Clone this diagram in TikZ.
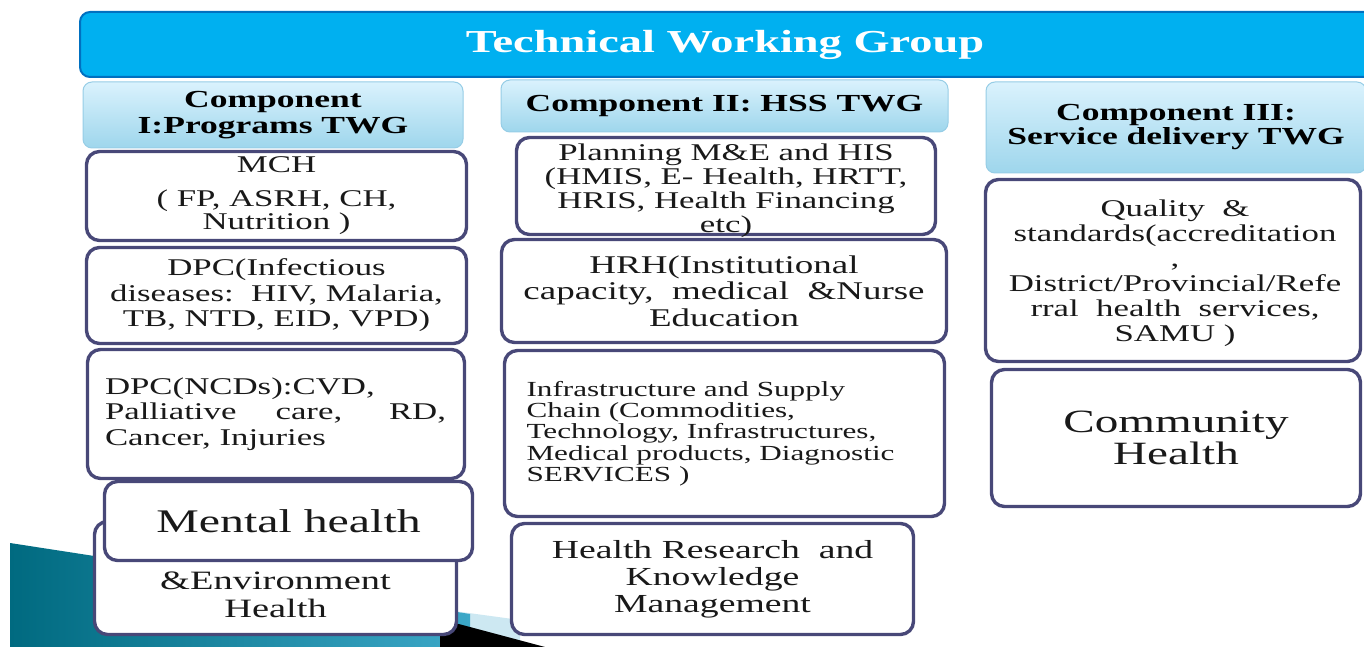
\documentclass[tikz,border=0pt]{standalone}
\usepackage{fontspec}
\setmainfont{Liberation Serif}[FakeStretch=1.45]
\definecolor{boxline}{RGB}{72,72,120}
\definecolor{headline}{RGB}{150,205,230}
\definecolor{headtop}{RGB}{218,242,253}
\definecolor{headbot}{RGB}{158,214,236}
\definecolor{titlefill}{RGB}{0,176,240}
\definecolor{titleline}{RGB}{0,112,192}
\definecolor{tealdark}{RGB}{0,106,128}
\definecolor{teallight}{RGB}{60,168,200}
\definecolor{paleblue}{RGB}{205,232,242}
\definecolor{ink}{RGB}{25,25,25}
\begin{document}
\begin{tikzpicture}[x=1pt,y=-1pt,
  item/.style={draw=boxline, line width=3.4pt, rounded corners=13pt, fill=white,
    inner sep=0pt, text=ink, align=center},
  head/.style={draw=headline, line width=1pt, rounded corners=9pt,
    top color=headtop, bottom color=headbot, inner sep=0pt, align=center, text=black,
    font=\bfseries\fontsize{24.5}{26}\selectfont},
  txt/.style={inner sep=0pt, text=ink}]

\fill[white] (0,0) rectangle (1364,647);
\useasboundingbox (0,0) rectangle (1364,647);

% decorative bands in the lower left corner
\fill[paleblue] (300,590) -- (520,620) -- (520,647) -- (300,647) -- cycle;
\shade[left color=tealdark, right color=teallight] (10,543) -- (470,614) -- (470,647) -- (10,647) -- cycle;
\fill[black] (440,619) -- (545,647) -- (440,647) -- cycle;

% title bar
\node[draw=titleline, line width=2pt, fill=titlefill, rounded corners=10pt,
  minimum width=1320pt, minimum height=65pt, inner sep=0pt, anchor=west] (twg) at (79,44.5) {};
\node[txt, text=white, font=\bfseries\fontsize{32}{34}\selectfont] (twgtext) at (725,45) {Technical Working Group};

% component headers
\node[head, minimum width=380pt, minimum height=66pt] (c1) at (273,115) {Component\\I:Programs TWG};
\node[head, minimum width=447pt, minimum height=52pt] (c2) at (724.5,106) {Component II: HSS TWG};
\node[head, minimum width=380pt, minimum height=91pt, font=\bfseries\fontsize{24.5}{24}\selectfont] (c3) at (1176,127.5) {Component III:\\Service delivery TWG};

% component I
\node[item, minimum width=380pt, minimum height=89pt, font=\fontsize{24}{23}\selectfont] (mch) at (276.5,196)
  {MCH\\[11pt]( FP, ASRH, CH,\\Nutrition )};
\node[item, minimum width=380pt, minimum height=96pt, font=\fontsize{24}{25.5}\selectfont] (dpc) at (276.5,295.5)
  {DPC(Infectious\\diseases:\ \ HIV, Malaria,\\TB, NTD, EID, VPD)};
\node[item, minimum width=377pt, minimum height=129pt] (ncd) at (276,414) {};
\node[txt, align=left, font=\fontsize{24}{25.5}\selectfont] (ncdtext) at (275.5,414)
  {DPC(NCDs):CVD,\\\makebox[341pt][s]{Palliative care, RD,}\\Cancer, Injuries};
\node[item, minimum width=362pt, minimum height=113pt] (env) at (275.5,578) {};
\node[txt, align=center, font=\fontsize{26.5}{28}\selectfont] (envtext) at (275.5,595) {\&Environment\\Health};
\node[item, minimum width=368pt, minimum height=79pt, font=\fontsize{33}{35}\selectfont] (mental) at (288.5,521) {Mental health};

% component II
\node[item, minimum width=419pt, minimum height=97pt] (plan) at (726,186) {};
\node[txt, align=center, font=\fontsize{24}{24}\selectfont] (plantext) at (726,191)
  {Planning M\&E and HIS\\(HMIS, E- Health, HRTT,\\HRIS, Health Financing\\etc)};
\node[item, minimum width=445pt, minimum height=103pt, font=\fontsize{25.5}{26.5}\selectfont] (hrh) at (724,291)
  {HRH(Institutional\\capacity,\ \ medical\ \ \&Nurse\\Education};
\node[item, minimum width=440pt, minimum height=166pt] (infra) at (724.5,433.5) {};
\node[txt, align=left, font=\fontsize{21.5}{21.3}\selectfont] (infratext) at (710.5,433.5)
  {Infrastructure and Supply\\Chain (Commodities,\\Technology, Infrastructures,\\Medical products, Diagnostic\\SERVICES )};
\node[item, minimum width=402pt, minimum height=111pt, font=\fontsize{26}{27}\selectfont] (research) at (712.5,579)
  {Health Research\ \ and\\Knowledge\\Management};

% component III
\node[item, minimum width=375pt, minimum height=182pt] (quality) at (1173,270.5) {};
\node[txt, align=center, font=\fontsize{24}{25}\selectfont] (qualitytext) at (1175,273)
  {Quality\ \ \&\\standards(accreditation\\,\\District/Provincial/Refe\\rral\ \ health\ \ services,\\SAMU )};
\node[item, minimum width=369pt, minimum height=137pt, font=\fontsize{32.5}{32}\selectfont] (community) at (1176,438)
  {Community\\Health};

\end{tikzpicture}
\end{document}
